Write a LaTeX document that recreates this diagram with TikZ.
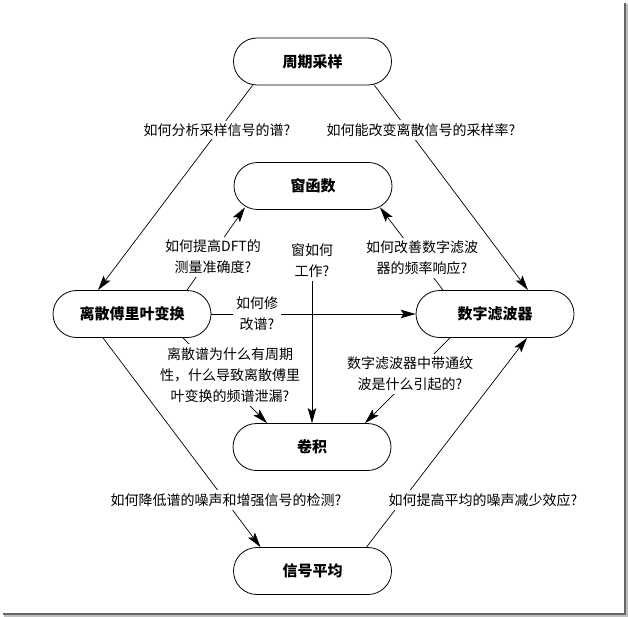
\documentclass[tikz,border=0pt]{standalone}
\usepackage{fontspec}
\setmainfont{Noto Sans CJK SC}
\usetikzlibrary{shapes.misc,arrows.meta}
\begin{document}
\begin{tikzpicture}[x=1pt,y=-1pt,
  topic/.style={rounded rectangle, draw, line width=0.8pt, minimum width=158pt,
    minimum height=47pt, inner sep=0pt, font=\fontsize{15}{17}\selectfont\bfseries},
  ask/.style={fill=white, inner sep=3pt, align=center, font=\fontsize{14}{21}\selectfont},
  link/.style={line width=0.7pt, -{Stealth[length=15pt,width=8.5pt,inset=3pt]}},
  edgeshade/.style={line width=2pt, black!60}]
\useasboundingbox (0,0) rectangle (628,617);
% page shadow
\draw[edgeshade] (625,3) -- (625,614) -- (3,614);
\draw[line width=1.2pt, black!25] (627,4) -- (627,616) -- (4,616);

% topics
\node[topic] (samp) at (312.5,61.5) {周期采样};
\node[topic] (win)  at (313,186) {窗函数};
\node[topic] (dft)  at (132,314) {离散傅里叶变换};
\node[topic] (filt) at (495,314) {数字滤波器};
\node[topic] (conv) at (312,447) {卷积};
\node[topic] (avg)  at (312.5,571) {信号平均};

% connectors (labels drawn on top with white fill)
\draw[link] ([xshift=-60pt]samp.south) -- ([xshift=-34pt]dft.north);
\draw[link] ([xshift=62pt]samp.south) -- ([xshift=33pt]filt.north);
\draw[link] ([xshift=55pt]dft.north) -- ([xshift=-68pt,yshift=2.5pt]win.south);
\draw[link] ([xshift=-52pt]filt.north) -- ([xshift=67pt,yshift=2.5pt]win.south);
\draw[link] (dft.east) -- (filt.west);
\draw[link] ([xshift=51pt]dft.south) -- ([xshift=-45pt]conv.north);
\draw[link] ([xshift=-45pt]filt.south) -- ([xshift=53pt]conv.north);
\draw[link] ([xshift=-29pt]dft.south) -- ([xshift=-52pt]avg.north);
\draw[link] ([xshift=54pt]avg.north) -- ([xshift=32pt]filt.south);

% question labels
\node[ask] (q1) at (217,130) {如何分析采样信号的谱?};
\node[ask] (q2) at (421,130) {如何能改变离散信号的采样率?};
\node[ask] (q3) at (213,257) {如何提高DFT的\\测量准确度?};
\node[ask] (q4) at (422,258) {如何改善数字滤波\\器的频率响应?};
\node[ask] (q5) at (312,261) {窗如何\\工作?};
\node[ask] (q6) at (257,314) {如何修\\改谱?};
\node[ask] (q7) at (230,375) {离散谱为什么有周期\\性，什么导致离散傅里\\叶变换的频谱泄漏?};
\node[ask] (q8) at (410,374) {数字滤波器中带通纹\\波是什么引起的?};
\node[ask] (q9) at (226,500) {如何降低谱的噪声和增强信号的检测?};
\node[ask] (q10) at (483,500) {如何提高平均的噪声减少效应?};

\draw[link] (q5.south) -- (q5.south |- conv.north);
\end{tikzpicture}
\end{document}
